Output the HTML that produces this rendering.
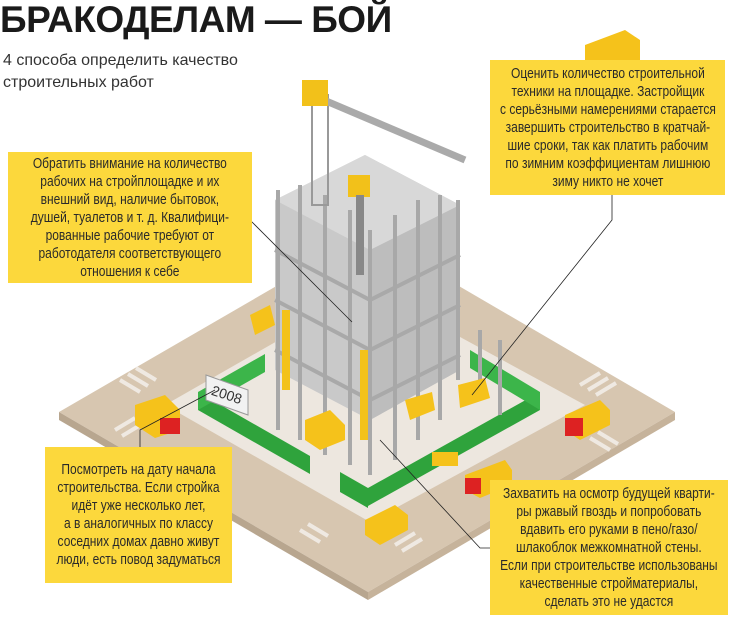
<!DOCTYPE html>
<html><head><meta charset="utf-8"><style>
body{margin:0;width:740px;height:642px;background:#fff;position:relative;overflow:hidden;font-family:"Liberation Sans",sans-serif}
.t{position:absolute;left:0;top:0px;font-weight:bold;font-size:37px;line-height:40px;color:#1a1a1a;letter-spacing:-0.5px;white-space:nowrap}
.s{position:absolute;left:3px;top:50px;font-size:16px;line-height:22px;color:#333}
.b{position:absolute;background:#fcd83c;display:flex;align-items:center;justify-content:center;text-align:center;font-size:15px;line-height:18px;color:#2a2a2a}
.b div{white-space:nowrap;transform:scaleX(0.8)}
svg{position:absolute;left:0;top:0}
</style></head><body>
<svg width="740" height="642">
<polygon points="59,412 368,233 675,412 368,592" fill="#d7c6b0"/>
<polygon points="59,412 368,592 368,600 59,420" fill="#b8a68f"/>
<polygon points="675,412 368,592 368,600 675,420" fill="#c6b39b"/>
<g stroke="#efe9e2" stroke-width="4">
<line x1="120" y1="380" x2="140" y2="392"/><line x1="128" y1="374" x2="148" y2="386"/><line x1="136" y1="368" x2="156" y2="380"/>
<line x1="115" y1="430" x2="135" y2="418"/><line x1="122" y1="436" x2="142" y2="424"/>
<line x1="580" y1="385" x2="600" y2="373"/><line x1="588" y1="390" x2="608" y2="378"/><line x1="596" y1="395" x2="616" y2="383"/>
<line x1="590" y1="438" x2="610" y2="450"/><line x1="598" y1="432" x2="618" y2="444"/>
<line x1="300" y1="530" x2="320" y2="542"/><line x1="308" y1="524" x2="328" y2="536"/>
<line x1="395" y1="545" x2="415" y2="533"/><line x1="402" y1="551" x2="422" y2="539"/>
</g>
<polygon points="165,405 370,288 585,405 370,522" fill="#ede7df"/>
<polygon points="198,392 310,456 310,474 198,410" fill="#2fa33c"/>
<polygon points="340,472 368,488 368,508 340,492" fill="#2fa33c"/>
<polygon points="368,488 540,392 540,410 368,506" fill="#2fa33c"/>
<polygon points="198,392 265,354 265,372 198,410" fill="#3cb54a"/>
<polygon points="470,350 540,392 540,410 470,368" fill="#3cb54a"/>
<polygon points="275,200 365,155 460,205 460,370 370,420 275,370" fill="#c9c9c9"/>
<polygon points="275,200 365,155 460,205 370,250" fill="#d8d8d8"/>
<polygon points="370,250 460,205 460,370 370,420" fill="#bdbdbd"/>
<g stroke="#a9a9a9" stroke-width="4" fill="none">
<polyline points="275,250 370,300 460,255"/><polyline points="275,300 370,350 460,305"/><polyline points="275,350 370,400 460,355"/>
</g>
<g stroke="#a8a8a8" stroke-width="4">
<line x1="278" y1="190" x2="278" y2="430"/><line x1="300" y1="185" x2="300" y2="440"/><line x1="325" y1="195" x2="325" y2="455"/><line x1="350" y1="210" x2="350" y2="465"/><line x1="370" y1="230" x2="370" y2="475"/><line x1="395" y1="215" x2="395" y2="460"/><line x1="418" y1="200" x2="418" y2="440"/><line x1="440" y1="195" x2="440" y2="420"/><line x1="458" y1="200" x2="458" y2="380"/>
<line x1="480" y1="330" x2="480" y2="400"/><line x1="500" y1="340" x2="500" y2="415"/>
</g>
<rect x="282" y="310" width="8" height="80" fill="#f3c21a"/><rect x="360" y="350" width="8" height="90" fill="#f3c21a"/>
<rect x="312" y="95" width="16" height="110" fill="none" stroke="#999" stroke-width="2"/>
<line x1="312" y1="95" x2="465" y2="160" stroke="#aaa" stroke-width="7"/>
<rect x="302" y="80" width="26" height="26" fill="#f2c11a"/>
<rect x="348" y="175" width="22" height="22" fill="#f2c11a"/>
<rect x="356" y="195" width="8" height="80" fill="#888"/>
<polygon points="585,45 625,30 640,40 640,60 600,75 585,65" fill="#f5c21b"/>
<polygon points="135,405 165,395 180,410 180,430 155,438 135,425" fill="#f5c21b"/><rect x="160" y="418" width="20" height="16" fill="#d22" />
<polygon points="565,415 600,400 610,410 610,425 580,440 565,430" fill="#f5c21b"/><rect x="565" y="418" width="18" height="18" fill="#d22"/>
<polygon points="465,475 505,460 512,470 512,485 480,498 465,490" fill="#f5c21b"/><rect x="465" y="478" width="16" height="16" fill="#d22"/>
<polygon points="365,520 395,505 408,515 408,530 380,545 365,535" fill="#f5c21b"/>
<polygon points="305,420 330,410 345,425 345,440 320,450 305,440" fill="#f5c21b"/>
<polygon points="250,315 270,305 275,325 255,335" fill="#f5c21b"/>
<polygon points="458,385 485,378 490,398 460,408" fill="#f5c21b"/>
<polygon points="405,400 432,392 435,410 410,420" fill="#f5c21b"/>
<rect x="432" y="452" width="26" height="14" fill="#f5c21b"/>
<polygon points="206,375 248,390 248,415 206,400" fill="#f2f2f2" stroke="#999"/>
<text x="211" y="399" font-size="14" fill="#333" transform="rotate(18 225 395)">2008</text>
<g stroke="#222" stroke-width="0.8" fill="none">
<polyline points="250,220 352,322"/>
<polyline points="612,195 612,220 472,395"/>
<polyline points="140,447 140,430 215,390"/>
<polyline points="490,548 480,548 380,440"/>
</g>
</svg>
<div class="t">БРАКОДЕЛАМ — БОЙ</div>
<div class="s">4 способа определить качество<br>строительных работ</div>
<div class="b" style="left:8px;top:152px;width:244px;height:131px"><div>Обратить внимание на количество<br>рабочих на стройплощадке и их<br>внешний вид, наличие бытовок,<br>душей, туалетов и т. д. Квалифици-<br>рованные рабочие требуют от<br>работодателя соответствующего<br>отношения к себе</div></div>
<div class="b" style="left:490px;top:60px;width:235px;height:135px"><div>Оценить количество строительной<br>техники на площадке. Застройщик<br>с серьёзными намерениями старается<br>завершить строительство в кратчай-<br>шие сроки, так как платить рабочим<br>по зимним коэффициентам лишнюю<br>зиму никто не хочет</div></div>
<div class="b" style="left:45px;top:447px;width:187px;height:136px"><div>Посмотреть на дату начала<br>строительства. Если стройка<br>идёт уже несколько лет,<br>а в аналогичных по классу<br>соседних домах давно живут<br>люди, есть повод задуматься</div></div>
<div class="b" style="left:490px;top:480px;width:238px;height:135px"><div>Захватить на осмотр будущей кварти-<br>ры ржавый гвоздь и попробовать<br>вдавить его руками в пено/газо/<br>шлакоблок межкомнатной стены.<br>Если при строительстве использованы<br>качественные стройматериалы,<br>сделать это не удастся</div></div>
</body></html>
